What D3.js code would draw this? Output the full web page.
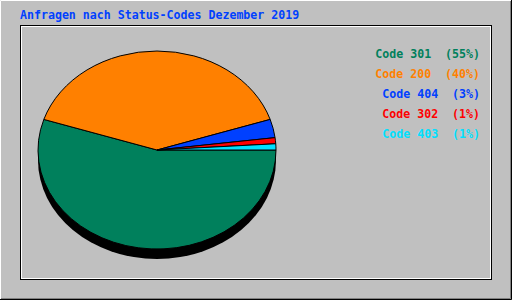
<!DOCTYPE html>
<html>
<head>
<meta charset="utf-8">
<script src="https://cdn.jsdelivr.net/npm/d3@7"></script>
<style>
  body { margin: 0; background: #c0c0c0; }
  text { font-family: "DejaVu Sans Mono", monospace; font-weight: bold; font-size: 11.6px; white-space: pre; }
</style>
</head>
<body>
<div id="chart"></div>
<script>
var title = "Anfragen nach Status-Codes Dezember 2019";
var codes = ["Code 301", "Code 200", "Code 404", "Code 302", "Code 403"];
var percents = [55, 40, 3, 1, 1];
var colors = ["#00805c", "#ff8000", "#0040ff", "#ff0000", "#00e0ff"];

function init() {
    var w = 512;
    var h = 300;
    var cx = 157, cy = 150, rx = 119, ry = 99, depth = 10;

    var svg = d3.select("#chart")
        .append("svg")
        .attr("width", w)
        .attr("height", h)
        .style("display", "block");

    svg.append("rect")
        .attr("width", w)
        .attr("height", h)
        .attr("fill", "#c0c0c0");

    // raised outer frame
    svg.append("path").attr("d", "M0.5,299 V0.5 H511").attr("stroke", "#fff").attr("fill", "none");
    svg.append("path").attr("d", "M1,298.5 H510.5 V1").attr("stroke", "#808080").attr("fill", "none");
    svg.append("path").attr("d", "M0,299.5 H511.5 V0").attr("stroke", "#000").attr("fill", "none");

    // inner box
    svg.append("rect")
        .attr("x", 20.5).attr("y", 25.5)
        .attr("width", 471).attr("height", 254)
        .attr("fill", "none").attr("stroke", "#000");
    svg.append("rect")
        .attr("x", 21.5).attr("y", 26.5)
        .attr("width", 469).attr("height", 252)
        .attr("fill", "none").attr("stroke", "#fff");

    svg.append("text")
        .attr("x", 20)
        .attr("y", 19)
        .attr("fill", "#0040ff")
        .text(title);

    // pie, drawn as unit circle squeezed into an ellipse; clockwise from 3 o'clock
    var pie = d3.pie()
        .sort(null)
        .startAngle(Math.PI / 2)
        .endAngle(Math.PI / 2 + 2 * Math.PI);

    var arc = d3.arc().innerRadius(0).outerRadius(1);

    svg.append("ellipse")
        .attr("cx", cx).attr("cy", cy + depth)
        .attr("rx", rx).attr("ry", ry)
        .attr("fill", "#000");

    var g = svg.append("g")
        .attr("transform", "translate(" + cx + "," + cy + ") scale(" + rx + "," + ry + ")");

    g.selectAll("path")
        .data(pie(percents))
        .enter()
        .append("path")
        .attr("d", arc)
        .attr("fill", function(d, i) { return colors[i]; })
        .attr("stroke", "#000")
        .attr("stroke-width", 1)
        .attr("vector-effect", "non-scaling-stroke");

    // legend
    svg.selectAll(".legend")
        .data(codes)
        .enter()
        .append("text")
        .attr("class", "legend")
        .attr("x", 480)
        .attr("y", function(d, i) { return 58 + i * 20; })
        .attr("text-anchor", "end")
        .attr("fill", function(d, i) { return colors[i]; })
        .text(function(d, i) { return d + "  (" + percents[i] + "%)"; });
}

window.onload = init;
</script>
</body>
</html>
